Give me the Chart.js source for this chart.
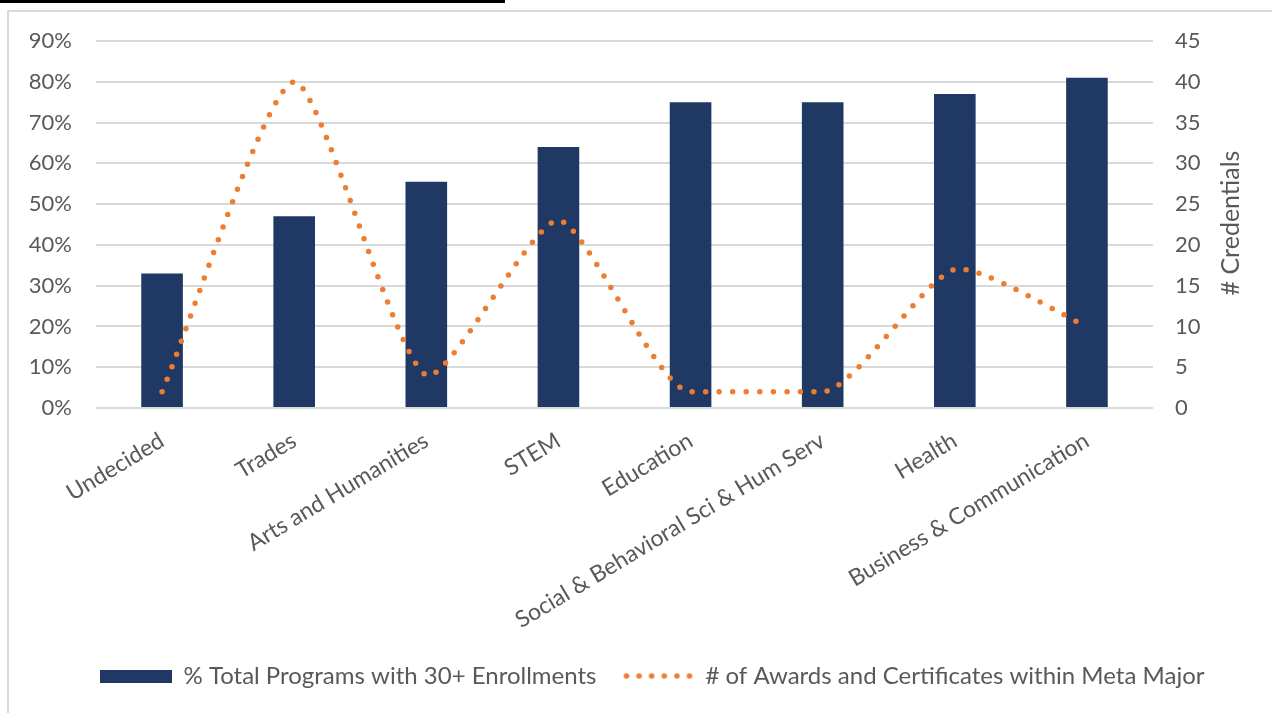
<!DOCTYPE html>
<html>
<head>
<meta charset="utf-8">
<script src="https://cdn.jsdelivr.net/npm/chart.js@4/dist/chart.umd.min.js"></script>
<style>
    body { margin: 0; background: #ffffff; }
    #topBar { position: absolute; left: 0; top: 0; width: 505px; height: 3px; background: #000000; }
    #moldura { position: absolute; left: 7px; top: 10px; width: 1290px; height: 720px; border: 2px solid #d9d9d9; box-sizing: border-box; }
    #caixa { position: absolute; left: 0; top: 0; width: 1272px; height: 713px; }
</style>
</head>
<body>
<div id="topBar"></div>
<div id="moldura"></div>
<div id="caixa"><canvas id="myChart"></canvas></div>

<script>
// dados do grafico
const categorias = ['Undecided', 'Trades', 'Arts and Humanities', 'STEM', 'Education',
    'Social & Behavioral Sci & Hum Serv', 'Health', 'Business & Communication'];
const pctProgramas = [33, 47, 55.5, 64, 75, 75, 77, 81];
const numCredenciais = [2, 40, 4, 23, 2, 2, 17, 10];
const ticksPct = [0, 10, 20, 30, 40, 50, 60, 70, 80, 90];
const ticksCred = [0, 5, 10, 15, 20, 25, 30, 35, 40, 45];

const nomeBarra = '% Total Programs with 30+ Enrollments';
const nomeLinha = '# of Awards and Certificates within Meta Major';
const tituloDireita = '# Credentials';

const azul = '#203864';
const laranja = '#ED7D31';
const cinzaTexto = '#595959';
const fonte = 'Lato';

// simbolos da legenda
function simboloBarra() {
    const c = document.createElement('canvas');
    c.width = 72;
    c.height = 13;
    const g = c.getContext('2d');
    g.fillStyle = azul;
    g.fillRect(0, 0, 72, 13);
    return c;
}

function simboloLinha() {
    const c = document.createElement('canvas');
    c.width = 72;
    c.height = 13;
    const g = c.getContext('2d');
    g.fillStyle = laranja;
    for (let i = 0; i < 6; i++) {
        g.beginPath();
        g.arc(5 + i * 12.6, 6.5, 2.8, 0, Math.PI * 2);
        g.fill();
    }
    return c;
}

// titulo do eixo da direita (de baixo para cima)
const tituloEixo = {
    id: 'tituloEixo',
    afterDraw(chart) {
        const ctx = chart.ctx;
        ctx.save();
        ctx.translate(1231, 223);
        ctx.rotate(-Math.PI / 2);
        ctx.fillStyle = cinzaTexto;
        ctx.font = '25px ' + fonte;
        ctx.textAlign = 'center';
        ctx.textBaseline = 'middle';
        ctx.fillText(tituloDireita, 0, 0);
        ctx.restore();
    }
};

// legenda um pouco mais para a direita, como no original
const moverLegenda = {
    id: 'moverLegenda',
    afterLayout(chart) {
        chart.legend.left = 32;
        chart.legend.right = chart.width;
    }
};

// trecho plano entre pontos iguais (Education / Social)
const trechoPlano = {
    id: 'trechoPlano',
    beforeDatasetDraw(chart, args) {
        const meta = args.meta;
        if (meta.type !== 'line') return;
        const linha = meta.dataset;
        linha.updateControlPoints(chart.chartArea, 'x');
        const pts = meta.data;
        for (let i = 0; i < pts.length; i++) {
            const p = pts[i];
            const igualAntes = i > 0 && Math.abs(pts[i - 1].y - p.y) < 0.5;
            const igualDepois = i < pts.length - 1 && Math.abs(pts[i + 1].y - p.y) < 0.5;
            if (igualAntes || igualDepois) {
                p.cp1y = p.y;
                p.cp2y = p.y;
            }
        }
    }
};

const ctx = document.getElementById('myChart');

new Chart(ctx, {
    type: 'bar',
    data: {
        labels: categorias,
        datasets: [{
            type: 'bar',
            label: nomeBarra,
            data: pctProgramas,
            backgroundColor: azul,
            yAxisID: 'y',
            barPercentage: 0.315,
            categoryPercentage: 1,
            order: 1
        }, {
            type: 'line',
            label: nomeLinha,
            data: numCredenciais,
            borderColor: laranja,
            borderWidth: 5.5,
            borderDash: [0, 13.5],
            borderCapStyle: 'round',
            tension: 0.2,
            pointRadius: 0,
            fill: false,
            yAxisID: 'y1',
            order: 0
        }]
    },
    options: {
        responsive: true,
        maintainAspectRatio: false,
        animation: false,
        layout: {
            padding: { left: 0, right: 0, top: 41, bottom: 15 }
        },
        plugins: {
            tooltip: { enabled: false },
            legend: {
                position: 'bottom',
                labels: {
                    usePointStyle: true,
                    pointStyleWidth: 72,
                    color: cinzaTexto,
                    font: { family: fonte, size: 24 },
                    padding: 25,
                    generateLabels: function () {
                        return [
                            { text: nomeBarra, pointStyle: simboloBarra(), fontColor: cinzaTexto, datasetIndex: 0, lineWidth: 0 },
                            { text: nomeLinha, pointStyle: simboloLinha(), fontColor: cinzaTexto, datasetIndex: 1, lineWidth: 0 }
                        ];
                    }
                }
            }
        },
        scales: {
            x: {
                grid: { display: false },
                border: { display: false },
                ticks: {
                    color: cinzaTexto,
                    font: { family: fonte, size: 23 },
                    autoSkip: false,
                    maxRotation: 31,
                    minRotation: 31,
                    padding: 11
                },
                afterFit: function (scale) {
                    scale.height = 231;
                }
            },
            y: {
                position: 'left',
                min: 0,
                max: 90,
                afterBuildTicks: function (scale) {
                    scale.ticks = ticksPct.map(v => ({ value: v }));
                },
                grid: { color: '#d9d9d9', lineWidth: 2, drawTicks: false },
                border: { display: false },
                ticks: {
                    color: cinzaTexto,
                    font: { family: fonte, size: 22 },
                    padding: 24,
                    callback: v => v + '%'
                },
                afterFit: function (scale) {
                    scale.width = 96;
                }
            },
            y1: {
                position: 'right',
                min: 0,
                max: 45,
                afterBuildTicks: function (scale) {
                    scale.ticks = ticksCred.map(v => ({ value: v }));
                },
                grid: { display: false, drawTicks: false },
                border: { display: false },
                ticks: {
                    color: cinzaTexto,
                    font: { family: fonte, size: 22 },
                    padding: 22
                },
                afterFit: function (scale) {
                    scale.width = 119;
                }
            }
        }
    },
    plugins: [tituloEixo, moverLegenda, trechoPlano]
});
</script>
</body>
</html>
